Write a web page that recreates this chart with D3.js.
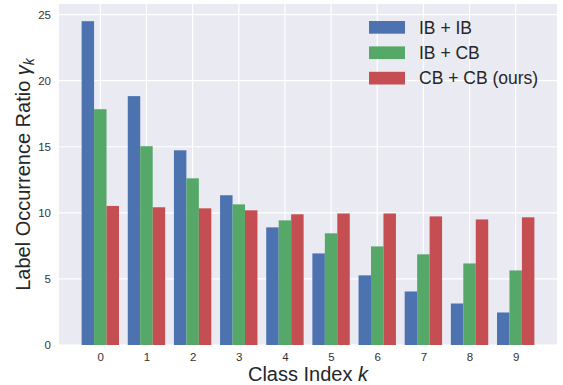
<!DOCTYPE html>
<html>
<head>
<meta charset="utf-8">
<script src="https://cdn.jsdelivr.net/npm/d3@7"></script>
<style>
  body { margin: 0; background: #fff; }
  text { font-family: "Liberation Sans", Arial, sans-serif; }
</style>
</head>
<body>
<div id="chart"></div>
<script>
const classes = [0, 1, 2, 3, 4, 5, 6, 7, 8, 9];
const seriesNames = ["IB + IB", "IB + CB", "CB + CB (ours)"];
const ibib = [24.5, 18.83, 14.73, 11.33, 8.9, 6.93, 5.27, 4.05, 3.14, 2.46];
const ibcb = [17.84, 15.04, 12.61, 10.64, 9.43, 8.45, 7.46, 6.86, 6.17, 5.64];
const cbcb = [10.52, 10.42, 10.34, 10.19, 9.89, 9.95, 9.95, 9.73, 9.5, 9.66];
const yTicks = [0, 5, 10, 15, 20, 25];
const colors = ["#4C72B0", "#55A868", "#C44E52"];

const width = 563, height = 385;
const margin = { left: 59, right: 6, top: 4, bottom: 40 };
const barW = 0.27;

const svg = d3.select("#chart").append("svg")
    .attr("width", width)
    .attr("height", height);

const x = d3.scaleLinear()
    .domain([-0.895, 9.895])
    .range([margin.left, width - margin.right]);
const y = d3.scaleLinear()
    .domain([0, 25.8])
    .range([height - margin.bottom, margin.top]);

// background
svg.append("rect")
    .attr("x", x.range()[0]).attr("y", y.range()[1])
    .attr("width", x.range()[1] - x.range()[0])
    .attr("height", y.range()[0] - y.range()[1])
    .attr("fill", "#EAEAF2");

// grid
svg.append("g").selectAll("line")
    .data(yTicks)
    .join("line")
    .attr("x1", x.range()[0]).attr("x2", x.range()[1])
    .attr("y1", d => y(d)).attr("y2", d => y(d))
    .attr("stroke", "#fff").attr("stroke-width", 1.2);
svg.append("g").selectAll("line")
    .data(classes)
    .join("line")
    .attr("x1", d => x(d)).attr("x2", d => x(d))
    .attr("y1", y.range()[0]).attr("y2", y.range()[1])
    .attr("stroke", "#fff").attr("stroke-width", 1.2);

// bars
const series = [ibib, ibcb, cbcb];
series.forEach((vals, si) => {
    svg.append("g").selectAll("rect")
        .data(vals)
        .join("rect")
        .attr("x", (d, i) => x(classes[i] + (si - 1) * barW - barW / 2))
        .attr("width", x(barW) - x(0))
        .attr("y", d => y(d))
        .attr("height", d => y(0) - y(d))
        .attr("fill", colors[si]);
});

// axes
const yAxis = d3.axisLeft(y).tickValues(yTicks).tickSize(0).tickPadding(8);
const gy = svg.append("g").attr("transform", `translate(${margin.left},0)`).call(yAxis);
gy.select(".domain").remove();
gy.selectAll("text").attr("font-size", "11.5px").attr("fill", "#333")
    .attr("font-family", "'Liberation Sans', Arial, sans-serif");

const xAxis = d3.axisBottom(x).tickValues(classes).tickSize(0).tickPadding(8);
const gx = svg.append("g").attr("transform", `translate(0,${height - margin.bottom})`).call(xAxis);
gx.select(".domain").remove();
gx.selectAll("text").attr("font-size", "11.5px").attr("fill", "#333")
    .attr("font-family", "'Liberation Sans', Arial, sans-serif");

// axis labels
const xl = svg.append("text")
    .attr("x", (x.range()[0] + x.range()[1]) / 2)
    .attr("y", 381)
    .attr("text-anchor", "middle")
    .attr("font-size", "20px")
    .attr("fill", "#262626");
xl.append("tspan").text("Class Index ");
xl.append("tspan").attr("font-style", "italic").text("k");

const yl = svg.append("text")
    .attr("transform", `translate(30,${(y.range()[0] + y.range()[1]) / 2}) rotate(-90)`)
    .attr("text-anchor", "middle")
    .attr("font-size", "20px")
    .attr("fill", "#262626");
yl.append("tspan").text("Label Occurrence Ratio ");
yl.append("tspan").attr("font-style", "italic").text("γ");
yl.append("tspan").attr("font-style", "italic").attr("font-size", "14px").attr("dy", 4).text("k");

// legend
const legend = svg.append("g").attr("transform", "translate(369,21)");
seriesNames.forEach((name, i) => {
    const g = legend.append("g").attr("transform", `translate(0,${i * 25.4})`);
    g.append("rect").attr("width", 36).attr("height", 12.7).attr("fill", colors[i]);
    g.append("text").attr("x", 50).attr("y", 12.5)
        .attr("font-size", "17.5px").attr("fill", "#262626").text(name);
});
</script>
</body>
</html>
